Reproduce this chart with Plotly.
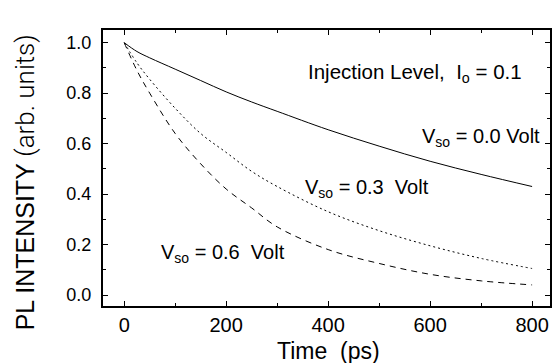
import plotly.graph_objects as go

time_ps = [0, 25, 50, 100, 150, 200, 250, 300, 400, 500, 600, 700, 800]
v_00 = [1.0, 0.965, 0.94, 0.895, 0.85, 0.805, 0.765, 0.728, 0.655, 0.59, 0.53, 0.478, 0.43]
v_03 = [1.0, 0.92, 0.855, 0.74, 0.64, 0.565, 0.49, 0.43, 0.33, 0.255, 0.195, 0.145, 0.105]
v_06 = [1.0, 0.89, 0.8, 0.64, 0.52, 0.42, 0.345, 0.27, 0.18, 0.125, 0.082, 0.056, 0.04]

x_ticks = [0, 200, 400, 600, 800]
y_ticks = [0.0, 0.2, 0.4, 0.6, 0.8, 1.0]
y_tick_text = ["0.0", "0.2", "0.4", "0.6", "0.8", "1.0"]

FONT = "Arial, Liberation Sans, sans-serif"

fig = go.Figure()
fig.add_trace(go.Scatter(x=time_ps, y=v_00, mode="lines", line=dict(color="black", width=1), line_shape="spline"))
fig.add_trace(go.Scatter(x=time_ps, y=v_03, mode="lines", line=dict(color="black", width=1, dash="2px,3px"), line_shape="spline"))
fig.add_trace(go.Scatter(x=time_ps, y=v_06, mode="lines", line=dict(color="black", width=1, dash="6px,5px"), line_shape="spline"))

W, H = 552, 363
L, R, T, B = 103, 0, 30, 57
pw, ph = W - L - R, H - T - B

def px_x(px):
    return (px - L) / pw

def px_y(py):
    return (H - B - py) / ph

axis_common = dict(
    showgrid=False, zeroline=False, showline=True, linecolor="black", linewidth=2,
    mirror="allticks", ticks="inside", ticklen=5, tickwidth=1, tickcolor="black",
)

fig.update_layout(
    width=W, height=H,
    margin=dict(l=L, r=R, t=T, b=B),
    paper_bgcolor="white", plot_bgcolor="white",
    showlegend=False,
    font=dict(family=FONT, color="black"),
    xaxis=dict(range=[-41.6, 835.1], tickvals=x_ticks, tickfont=dict(size=20),
               minor=dict(dtick=100, ticks="inside", ticklen=3, tickcolor="black"),
               **axis_common),
    yaxis=dict(range=[-0.0436, 1.0503], tickvals=y_ticks, ticktext=y_tick_text,
               tickfont=dict(size=18), ticklabelstandoff=6,
               minor=dict(dtick=0.1, ticks="inside", ticklen=3, tickcolor="black"),
               **axis_common),
    annotations=[
        dict(text="PL INTENSITY <span style='font-family:Roboto;font-weight:300;font-size:26px'>(arb. units)</span>",
             xref="paper", yref="paper", x=px_x(25), y=px_y(182), textangle=-90,
             showarrow=False, font=dict(size=25), xanchor="center", yanchor="middle"),
        dict(text="Time  (ps)", xref="paper", yref="paper", x=px_x(330), y=px_y(351),
             showarrow=False, font=dict(size=23), xanchor="center", yanchor="middle"),
        dict(text="Injection Level,  I<sub>o</sub> = 0.1", xref="paper", yref="paper",
             x=px_x(307), y=px_y(73), showarrow=False, font=dict(size=20.5),
             xanchor="left", yanchor="middle"),
        dict(text="V<sub>so</sub> = 0.0 Volt", xref="paper", yref="paper",
             x=px_x(421), y=px_y(137), showarrow=False, font=dict(size=20),
             xanchor="left", yanchor="middle"),
        dict(text="V<sub>so</sub> = 0.3  Volt", xref="paper", yref="paper",
             x=px_x(304), y=px_y(188), showarrow=False, font=dict(size=20),
             xanchor="left", yanchor="middle"),
        dict(text="V<sub>so</sub> = 0.6  Volt", xref="paper", yref="paper",
             x=px_x(159), y=px_y(253), showarrow=False, font=dict(size=20),
             xanchor="left", yanchor="middle"),
    ],
)

fig.write_html("out.html")
